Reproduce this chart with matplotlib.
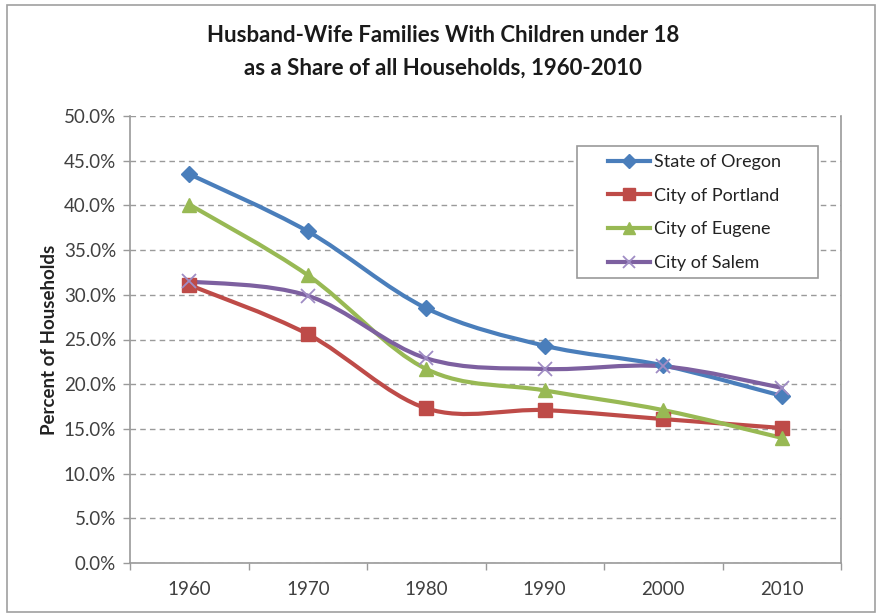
import numpy as np
import matplotlib
matplotlib.use('Agg')
from matplotlib import pyplot as plt
from matplotlib.path import Path
from matplotlib.patches import PathPatch, Rectangle
from matplotlib.lines import Line2D

plt.rcParams['font.family'] = ['Lato', 'DejaVu Sans']

years = ['1960', '1970', '1980', '1990', '2000', '2010']
oregon = [43.5, 37.1, 28.5, 24.3, 22.1, 18.7]
portland = [31.1, 25.6, 17.3, 17.1, 16.1, 15.1]
eugene = [40.1, 32.2, 21.7, 19.3, 17.1, 14.0]
salem = [31.5, 29.9, 22.9, 21.7, 22.0, 19.6]

series = [
    ('State of Oregon', oregon, '#4A7EBB', 'D', 8.5),
    ('City of Portland', portland, '#BE4B48', 's', 9.5),
    ('City of Eugene', eugene, '#98B954', '^', 9.5),
    ('City of Salem', salem, '#7D60A0', 'x', 10),
]

fig = plt.figure(figsize=(8.77, 6.13), dpi=100)
ax = fig.add_axes([130 / 877, 50 / 613, 711 / 877, 447 / 613])

# outer chart frame
fig.patches.append(Rectangle((7 / 877, 1 / 613), 868 / 877, 607 / 613,
                             transform=fig.transFigure, fill=False,
                             edgecolor='#a0a0a0', linewidth=1.2))
# legend box (drawn separately to get Excel-like padding)
fig.patches.append(Rectangle((577 / 877, 1 - 278 / 613), 241 / 877, 132 / 613,
                             transform=fig.transFigure, facecolor='white',
                             edgecolor='#9a9a9a', linewidth=1.2, zorder=5))


def smooth_path(x, y):
    # Excel-like smoothed line: cubic bezier through the points
    pts = np.column_stack([x, y])
    n = len(pts)
    verts = [pts[0]]
    codes = [Path.MOVETO]
    for i in range(n - 1):
        p0 = pts[max(i - 1, 0)]
        p1 = pts[i]
        p2 = pts[i + 1]
        p3 = pts[min(i + 2, n - 1)]
        verts += [p1 + (p2 - p0) / 6, p2 - (p3 - p1) / 6, p2]
        codes += [Path.CURVE4] * 3
    return Path(verts, codes)


xs = np.arange(len(years))
handles = []
for name, vals, color, marker, ms in series:
    ax.add_patch(PathPatch(smooth_path(xs, vals), fill=False, edgecolor=color,
                           linewidth=3, capstyle='round', joinstyle='round', zorder=3))
    if marker == 'x':
        ax.plot(xs, vals, linestyle='none', marker='x', markersize=ms,
                markeredgecolor='#9f8cc4', markeredgewidth=1.3, zorder=4)
    else:
        ax.plot(xs, vals, linestyle='none', marker=marker, markersize=ms,
                color=color, markeredgecolor=color, zorder=4)
    handles.append(Line2D([], [], color=color, linewidth=3, marker=marker,
                          markersize=ms - 1,
                          markeredgecolor='#9f8cc4' if marker == 'x' else color,
                          markeredgewidth=1.3 if marker == 'x' else 1))

ax.set_xlim(-0.5, len(years) - 0.5)
ax.set_ylim(0, 50)
ax.set_yticks(np.arange(0, 50.1, 5))
ax.set_yticklabels(['%.1f%%' % v for v in np.arange(0, 50.1, 5)])
ax.set_xticks(xs)
ax.set_xticklabels(years)
ax.set_xticks(np.arange(-0.5, len(years)), minor=True)
ax.tick_params(axis='x', which='major', length=0, pad=13, labelsize=13.5, labelcolor='#404040')
ax.tick_params(axis='x', which='minor', length=5, color='#9a9a9a', width=1)
ax.tick_params(axis='y', length=5, color='#9a9a9a', width=1, pad=5,
               labelsize=13.5, labelcolor='#404040')

ax.grid(axis='y', linestyle=(0, (4, 3)), color='#9a9a9a', linewidth=1)
ax.set_axisbelow(True)
for side in ['left', 'bottom', 'right']:
    ax.spines[side].set_color('#9a9a9a')
    ax.spines[side].set_linewidth(1.2)
ax.spines['top'].set_visible(False)

ax.set_ylabel('Percent of Households', fontsize=13.5, fontweight='bold',
              color='#222222', labelpad=4)

fig.text(0.505, 0.942, 'Husband-Wife Families With Children under 18',
         ha='center', va='center', fontsize=16, fontweight='bold', color='#1a1a1a')
fig.text(0.505, 0.889, 'as a Share of all Households, 1960-2010',
         ha='center', va='center', fontsize=16, fontweight='bold', color='#1a1a1a')

leg = fig.legend(handles, [s[0] for s in series], loc='upper left',
                 bbox_to_anchor=(608 / 877, 1 - 154 / 613), fontsize=13,
                 frameon=False, handlelength=2.3, borderpad=0,
                 labelspacing=0.98, handletextpad=0.25, borderaxespad=0)
leg.set_zorder(6)
for t in leg.get_texts():
    t.set_color('#222222')

fig.savefig('out.png', dpi=100)
